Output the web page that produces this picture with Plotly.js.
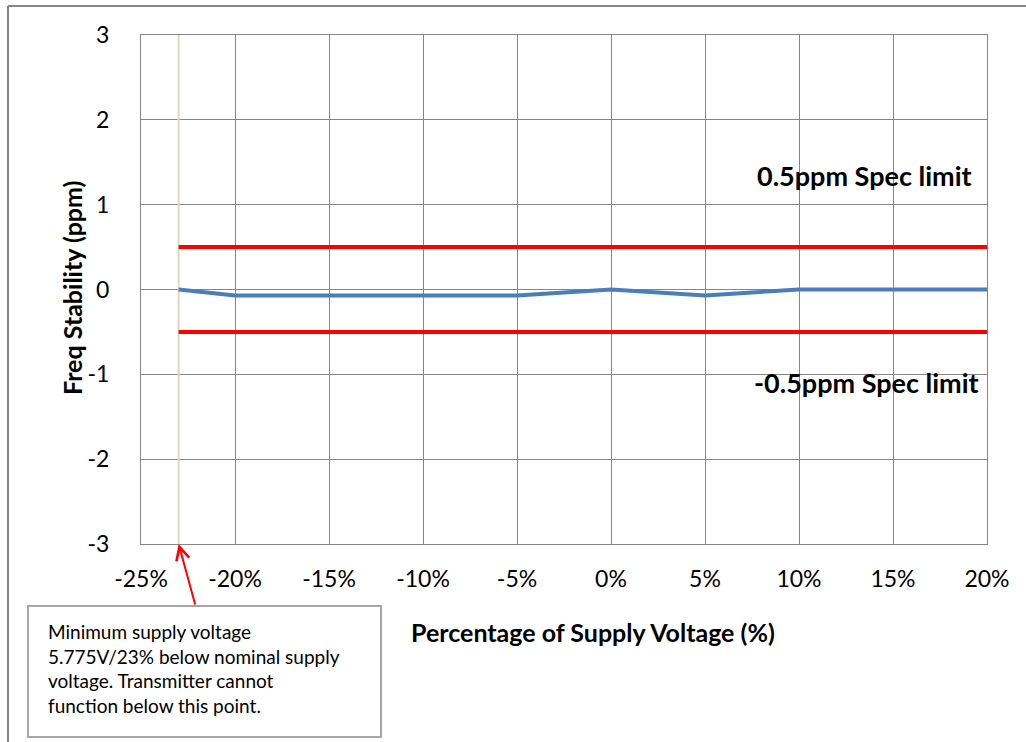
<!DOCTYPE html>
<html><head><meta charset="utf-8">
<script src="https://cdn.plot.ly/plotly-3.0.1.min.js"></script>
<style>html,body{margin:0;padding:0;background:#fff}#chart{width:1026px;height:742px}</style>
</head><body><div id="chart"></div>
<script>
const supplyPct = [-23, -20, -15, -10, -5, 0, 5, 10, 15, 20];
const freqStability = [0, -0.07, -0.07, -0.07, -0.07, 0, -0.07, 0, 0, 0];
const specX = [-23, 20];
const upperSpec = [0.5, 0.5];
const lowerSpec = [-0.5, -0.5];
const minVoltX = [-23, -23];
const minVoltY = [-3, 3];
const xTickVals = [-25, -20, -15, -10, -5, 0, 5, 10, 15, 20];
const xTickText = ['-25%', '-20%', '-15%', '-10%', '-5%', '0%', '5%', '10%', '15%', '20%'];
const yTickVals = [-3, -2, -1, 0, 1, 2, 3];
const yTickText = ['-3', '-2', '-1', '0', '1', '2', '3'];

const FONT = 'Lato, "Open Sans", sans-serif';

const traces = [
  {x: minVoltX, y: minVoltY, mode: 'lines', line: {color: '#ddd9c3', width: 2}, hoverinfo: 'skip'},
  {x: specX, y: upperSpec, mode: 'lines', line: {color: '#ff0000', width: 4}},
  {x: specX, y: lowerSpec, mode: 'lines', line: {color: '#ff0000', width: 4}},
  {x: supplyPct, y: freqStability, mode: 'lines', line: {color: '#4a7ebb', width: 4}}
];

const W = 846, H = 509, L = 141, T = 35;
const px = v => (v - L) / W;
const py = v => (T + H - v) / H;

const layout = {
  width: 1026, height: 742,
  margin: {l: 141, r: 39, t: 35, b: 198},
  paper_bgcolor: '#fff', plot_bgcolor: '#fff',
  showlegend: false,
  font: {family: FONT, color: '#000', size: 18},
  xaxis: {
    range: [-25, 20], tickvals: xTickVals, ticktext: xTickText,
    showgrid: true, gridcolor: '#868686', gridwidth: 1,
    zeroline: false, showline: true, linecolor: '#868686', mirror: true,
    ticks: '', ticklen: 0, tickfont: {family: FONT, size: 23}, ticklabelstandoff: 14
  },
  yaxis: {
    range: [-3, 3], tickvals: yTickVals, ticktext: yTickText,
    showgrid: true, gridcolor: '#868686', gridwidth: 1,
    zeroline: false, showline: true, linecolor: '#868686', mirror: true,
    ticks: '', tickfont: {family: FONT, size: 23}, ticklabelstandoff: 26
  },
  shapes: [
    {type: 'line', xref: 'paper', yref: 'paper', x0: px(8), x1: px(8), y0: py(6), y1: py(742), line: {color: '#868686', width: 2}},
    {type: 'line', xref: 'paper', yref: 'paper', x0: px(8), x1: px(1026), y0: py(6), y1: py(6), line: {color: '#868686', width: 2}},
    {type: 'rect', xref: 'paper', yref: 'paper', x0: px(28), x1: px(381), y0: py(606), y1: py(737), line: {color: '#a6a6a6', width: 2}, fillcolor: '#fff'}
  ],
  annotations: [
    {xref: 'paper', yref: 'paper', x: px(593), y: py(632), xanchor: 'center', yanchor: 'middle', showarrow: false,
     text: '<b>Percentage of Supply Voltage (%)</b>', font: {family: FONT, size: 25, color: '#000'}},
    {xref: 'paper', yref: 'paper', x: px(72), y: py(288), xanchor: 'center', yanchor: 'middle', showarrow: false, textangle: -90,
     text: '<b>Freq Stability (ppm)</b>', font: {family: FONT, size: 25, color: '#000'}},
    {xref: 'paper', yref: 'paper', x: px(46), y: py(618), xanchor: 'left', yanchor: 'top', align: 'left', showarrow: false,
     text: 'Minimum supply voltage<br>5.775V/23% below nominal supply<br>voltage. Transmitter cannot<br>function below this point.',
     font: {family: FONT, size: 19, color: '#000'}},
    {x: -23, y: -3, xref: 'x', yref: 'y', text: '', showarrow: true, ax: 17, ay: 62, arrowcolor: '#ff0000', arrowwidth: 2, arrowhead: 5, arrowsize: 1.3},
    {x: 13.5, y: 1.34, xref: 'x', yref: 'y', text: '<b>0.5ppm Spec limit</b>', showarrow: false, font: {family: FONT, size: 27, color: '#000'}},
    {x: 13.6, y: -1.1, xref: 'x', yref: 'y', text: '<b>-0.5ppm Spec limit</b>', showarrow: false, font: {family: FONT, size: 27, color: '#000'}}
  ]
};

Plotly.newPlot('chart', traces, layout, {displayModeBar: false, staticPlot: true});
</script></body></html>
